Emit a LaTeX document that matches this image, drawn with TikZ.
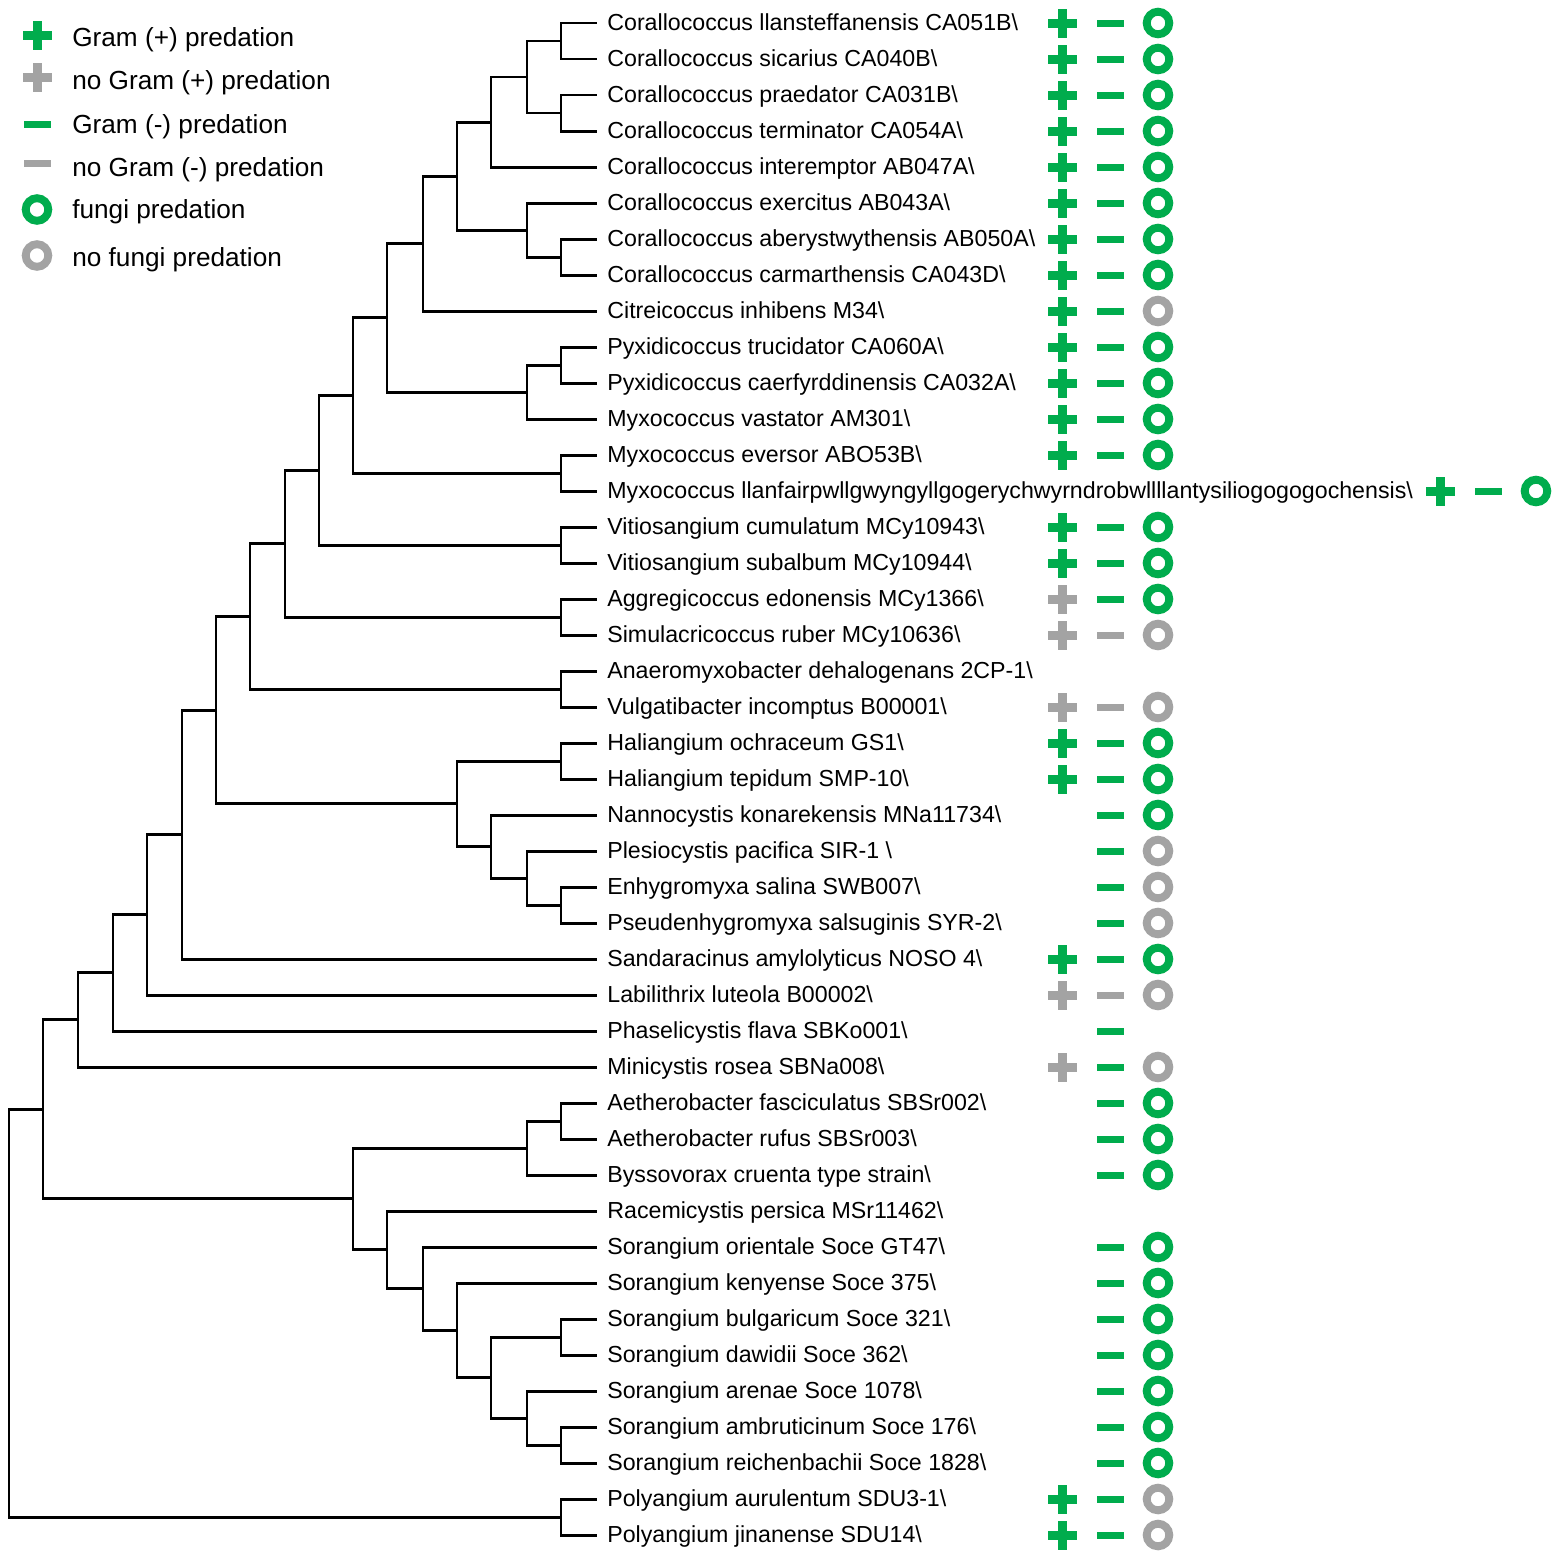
\documentclass[tikz,border=0pt]{standalone}
\usepackage{fontspec}
\setmainfont{Liberation Sans}
\usetikzlibrary{calc}
\definecolor{predgreen}{RGB}{0,172,77}
\definecolor{nogray}{RGB}{163,163,163}
\newcommand{\bsl}{\textbackslash}

\tikzset{
  branch/.style={line width=1.7pt},
  leaf/.style={anchor=base west, inner xsep=5.7pt, inner ysep=0pt, font=\fontsize{13.2}{15}\selectfont},
  keytext/.style={anchor=base west, inner sep=0pt, font=\fontsize{14.9}{17}\selectfont},
  plussign/.pic={\fill (-14.5,-4.5) rectangle (14.5,4.5); \fill (-4.5,-14.5) rectangle (4.5,14.5);},
  minussign/.pic={\fill (-13.5,-3.5) rectangle (13.5,3.5);},
  ringsign/.pic={\draw[line width=4.5pt] (0,0) circle[radius=0.226cm];}
}

\begin{document}
\begin{tikzpicture}[x=0.02cm, y=-0.02cm]
  \useasboundingbox (0,0) rectangle (1559,1556);

  % leaves and their symbol columns
  \foreach \name [count=\i] in {
    Corallococcus llansteffanensis CA051B\bsl,
    Corallococcus sicarius CA040B\bsl,
    Corallococcus praedator CA031B\bsl,
    Corallococcus terminator CA054A\bsl,
    Corallococcus interemptor AB047A\bsl,
    Corallococcus exercitus AB043A\bsl,
    Corallococcus aberystwythensis AB050A\bsl,
    Corallococcus carmarthensis CA043D\bsl,
    Citreicoccus inhibens M34\bsl,
    Pyxidicoccus trucidator CA060A\bsl,
    Pyxidicoccus caerfyrddinensis CA032A\bsl,
    Myxococcus vastator AM301\bsl,
    Myxococcus eversor ABO53B\bsl,
    Myxococcus llanfairpwllgwyngyllgogerychwyrndrobwllllantysiliogogogochensis\bsl,
    Vitiosangium cumulatum MCy10943\bsl,
    Vitiosangium subalbum MCy10944\bsl,
    Aggregicoccus edonensis MCy1366\bsl,
    Simulacricoccus ruber MCy10636\bsl,
    Anaeromyxobacter dehalogenans 2CP-1\bsl,
    Vulgatibacter incomptus B00001\bsl,
    Haliangium ochraceum GS1\bsl,
    Haliangium tepidum SMP-10\bsl,
    Nannocystis konarekensis MNa11734\bsl,
    Plesiocystis pacifica SIR-1 \bsl,
    Enhygromyxa salina SWB007\bsl,
    Pseudenhygromyxa salsuginis SYR-2\bsl,
    Sandaracinus amylolyticus NOSO 4\bsl,
    Labilithrix luteola B00002\bsl,
    Phaselicystis flava SBKo001\bsl,
    Minicystis rosea SBNa008\bsl,
    Aetherobacter fasciculatus SBSr002\bsl,
    Aetherobacter rufus SBSr003\bsl,
    Byssovorax cruenta type strain\bsl,
    Racemicystis persica MSr11462\bsl,
    Sorangium orientale Soce GT47\bsl,
    Sorangium kenyense Soce 375\bsl,
    Sorangium bulgaricum Soce 321\bsl,
    Sorangium dawidii Soce 362\bsl,
    Sorangium arenae Soce 1078\bsl,
    Sorangium ambruticinum Soce 176\bsl,
    Sorangium reichenbachii Soce 1828\bsl,
    Polyangium aurulentum SDU3-1\bsl,
    Polyangium jinanense SDU14\bsl}{
    \pgfmathsetmacro\ly{23+36*(\i-1)}
    \pgfmathsetmacro\sx{\i==14 ? 1440 : 1062}
    \coordinate (l\i) at (597,\ly);
    \node[leaf] (t\i) at (597,{\ly+7.5}) {\name};
    \coordinate (p\i) at (\sx,\ly);
    \coordinate (m\i) at ({\sx+48},\ly);
    \coordinate (o\i) at ({\sx+96},\ly);
  }

  % inner nodes
  \coordinate (a1) at (561,41);
  \coordinate (a2) at (561,113);
  \coordinate (a3) at (527,77);
  \coordinate (a4) at (491,122);
  \coordinate (a5) at (561,257);
  \coordinate (a6) at (527,230);
  \coordinate (a7) at (457,176);
  \coordinate (a8) at (423,243.5);
  \coordinate (a9) at (561,365);
  \coordinate (a10) at (527,392);
  \coordinate (a11) at (387,317.75);
  \coordinate (a12) at (561,473);
  \coordinate (a13) at (353,395.4);
  \coordinate (a14) at (561,545);
  \coordinate (a15) at (319,470.2);
  \coordinate (a16) at (561,617);
  \coordinate (a17) at (285,543.6);
  \coordinate (a18) at (561,689);
  \coordinate (a19) at (250,616.3);
  \coordinate (a20) at (561,761);
  \coordinate (a21) at (561,905);
  \coordinate (a22) at (527,878);
  \coordinate (a23) at (491,846.5);
  \coordinate (a24) at (457,803.75);
  \coordinate (a25) at (216,710);
  \coordinate (a26) at (182,834.5);
  \coordinate (a27) at (147,914.75);
  \coordinate (a28) at (113,972.9);
  \coordinate (a29) at (78,1019.9);
  \coordinate (a30) at (561,1121);
  \coordinate (a31) at (527,1148);
  \coordinate (a32) at (561,1337);
  \coordinate (a33) at (561,1445);
  \coordinate (a34) at (527,1418);
  \coordinate (a35) at (491,1377.5);
  \coordinate (a36) at (457,1330.25);
  \coordinate (a37) at (423,1288.6);
  \coordinate (a38) at (387,1249.8);
  \coordinate (a39) at (353,1198.9);
  \coordinate (a40) at (43,1109.4);
  \coordinate (a41) at (561,1517);
  \coordinate (a42) at (9,1313.2);

  % branches
  \foreach \p/\c in {a1/l1, a1/l2, a2/l3, a2/l4, a3/a1, a3/a2, a4/a3, a4/l5,
      a5/l7, a5/l8, a6/l6, a6/a5, a7/a4, a7/a6, a8/a7, a8/l9,
      a9/l10, a9/l11, a10/a9, a10/l12, a11/a8, a11/a10, a12/l13, a12/l14,
      a13/a11, a13/a12, a14/l15, a14/l16, a15/a13, a15/a14, a16/l17, a16/l18,
      a17/a15, a17/a16, a18/l19, a18/l20, a19/a17, a19/a18, a20/l21, a20/l22,
      a21/l25, a21/l26, a22/l24, a22/a21, a23/l23, a23/a22, a24/a20, a24/a23,
      a25/a19, a25/a24, a26/a25, a26/l27, a27/a26, a27/l28, a28/a27, a28/l29,
      a29/a28, a29/l30, a30/l31, a30/l32, a31/a30, a31/l33, a32/l37, a32/l38,
      a33/l40, a33/l41, a34/l39, a34/a33, a35/a32, a35/a34, a36/l36, a36/a35,
      a37/l35, a37/a36, a38/l34, a38/a37, a39/a31, a39/a38, a40/a29, a40/a39,
      a41/l42, a41/l43, a42/a40, a42/a41}
    \draw[branch] (\p) |- (\c);

  % predation marks
  \foreach \i in {1,2,3,4,5,6,7,8,9,10,11,12,13,14,15,16,21,22,27,42,43}
    \pic[predgreen] at (p\i) {plussign};
  \foreach \i in {17,18,20,28,30}
    \pic[nogray] at (p\i) {plussign};
  \foreach \i in {1,2,3,4,5,6,7,8,9,10,11,12,13,14,15,16,17,21,22,23,24,25,26,27,
      29,30,31,32,33,35,36,37,38,39,40,41,42,43}
    \pic[predgreen] at (m\i) {minussign};
  \foreach \i in {18,20,28}
    \pic[nogray] at (m\i) {minussign};
  \foreach \i in {1,2,3,4,5,6,7,8,10,11,12,13,14,15,16,17,21,22,23,27,
      31,32,33,35,36,37,38,39,40,41}
    \pic[predgreen] at (o\i) {ringsign};
  \foreach \i in {9,18,20,24,25,26,28,30,42,43}
    \pic[nogray] at (o\i) {ringsign};

  % key
  \pic[predgreen] at (37,35) {plussign};
  \node[keytext] (key1) at (72,46.5) {Gram (+) predation};
  \pic[nogray] at (37,77.5) {plussign};
  \node[keytext] (key2) at (72,89.5) {no Gram (+) predation};
  \pic[predgreen] at (37,124) {minussign};
  \node[keytext] (key3) at (72,133) {Gram (-) predation};
  \pic[nogray] at (37,163.5) {minussign};
  \node[keytext] (key4) at (72,176) {no Gram (-) predation};
  \pic[predgreen] at (37,209.5) {ringsign};
  \node[keytext] (key5) at (72,218.5) {fungi predation};
  \pic[nogray] at (37,255.5) {ringsign};
  \node[keytext] (key6) at (72,266.5) {no fungi predation};
\end{tikzpicture}
\end{document}
